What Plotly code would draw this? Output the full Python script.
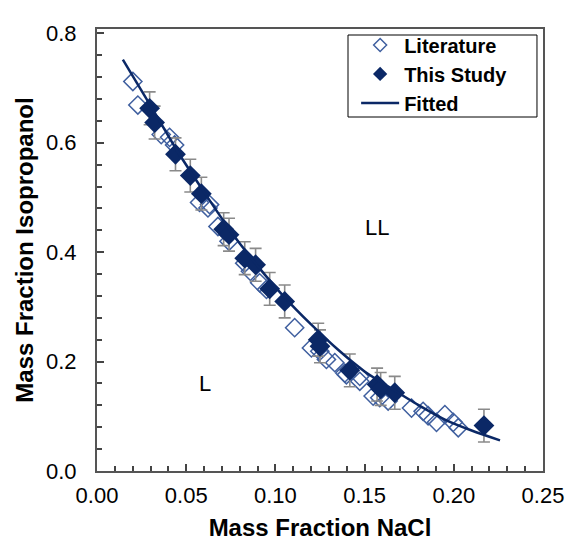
import plotly.graph_objects as go

# ---------------- data ----------------
lit_x = [0.0201, 0.0229, 0.0360, 0.0407, 0.0435, 0.0575, 0.0622, 0.0631, 0.0678,
         0.0740, 0.0828, 0.0860, 0.0912, 0.0950, 0.1108, 0.1202, 0.1249, 0.1286,
         0.1333, 0.1389, 0.1398, 0.1473, 0.1473, 0.1548, 0.1585, 0.1632, 0.1763,
         0.1828, 0.1856, 0.1903, 0.1950, 0.1997, 0.2025]
lit_y = [0.712, 0.669, 0.615, 0.610, 0.596, 0.491, 0.481, 0.487, 0.447,
         0.420, 0.380, 0.365, 0.344, 0.332, 0.262, 0.225, 0.219, 0.204,
         0.198, 0.179, 0.176, 0.173, 0.164, 0.137, 0.134, 0.128, 0.115,
         0.109, 0.101, 0.089, 0.103, 0.089, 0.079]

study_x = [0.0295, 0.0323, 0.0440, 0.0523, 0.0585, 0.0710, 0.0740, 0.0828, 0.0889,
           0.0968, 0.1052, 0.1240, 0.1250, 0.1417, 0.1570, 0.1590, 0.1669, 0.2169]
study_y = [0.663, 0.637, 0.579, 0.540, 0.507, 0.442, 0.432, 0.389, 0.377,
           0.333, 0.310, 0.240, 0.228, 0.184, 0.158, 0.150, 0.143, 0.083]
study_err = [0.03] * len(study_x)

fit_x = [0.0145, 0.030, 0.045, 0.060, 0.075, 0.090, 0.105, 0.120, 0.135,
         0.150, 0.165, 0.180, 0.195, 0.210, 0.2259]
fit_y = [0.752, 0.668, 0.585, 0.510, 0.438, 0.375, 0.318, 0.268, 0.222,
         0.182, 0.151, 0.121, 0.094, 0.074, 0.056]

region_labels = ["LL", "L"]
region_x = [0.157, 0.0603]
region_y = [0.446, 0.160]

x_ticks = [0.00, 0.05, 0.10, 0.15, 0.20, 0.25]
y_ticks = [0.0, 0.2, 0.4, 0.6, 0.8]

FONT = "Liberation Sans, Arial, sans-serif"
NAVY = "#0b2866"
LITC = "#3f5f9f"

fig = go.Figure()

fig.add_trace(go.Scatter(
    x=lit_x, y=lit_y, mode="markers", name="Literature", showlegend=False,
    marker=dict(symbol="diamond-open", size=14, color=LITC,
                line=dict(width=1.5, color=LITC)),
))
fig.add_trace(go.Scatter(
    x=study_x, y=study_y, mode="markers", name="This Study", showlegend=False,
    marker=dict(symbol="diamond", size=16, color=NAVY),
    error_y=dict(type="data", array=study_err, visible=True,
                 color="#8a8a8a", thickness=1.6, width=6),
))
fig.add_trace(go.Scatter(
    x=fit_x, y=fit_y, mode="lines", name="Fitted", showlegend=False,
    line=dict(color=NAVY, width=2.5, shape="spline", smoothing=0.8),
))

# legend entries (smaller symbols, as in the original legend)
fig.add_trace(go.Scatter(x=[None], y=[None], mode="markers", name="Literature",
                         marker=dict(symbol="diamond-open", size=10, color=LITC,
                                     line=dict(width=1.5, color=LITC))))
fig.add_trace(go.Scatter(x=[None], y=[None], mode="markers", name="This Study",
                         marker=dict(symbol="diamond", size=11, color=NAVY)))
fig.add_trace(go.Scatter(x=[None], y=[None], mode="lines", name="Fitted",
                         line=dict(color=NAVY, width=2.5)))

for t, xx, yy in zip(region_labels, region_x, region_y):
    fig.add_annotation(x=xx, y=yy, xref="x", yref="y", text=t, showarrow=False,
                       font=dict(family=FONT, size=22, color="black"))

# legend frame
fig.add_shape(type="rect", xref="paper", yref="paper",
              x0=0.5628, x1=0.9865, y0=0.8009, y1=0.9864,
              line=dict(color="black", width=1), fillcolor="white", layer="below")

fig.update_layout(
    width=565, height=541,
    margin=dict(l=97, r=22, t=29, b=70),
    paper_bgcolor="white", plot_bgcolor="white",
    font=dict(family=FONT, color="black"),
    showlegend=True,
    legend=dict(x=0.581, y=1.008, xanchor="left", yanchor="top",
                bgcolor="rgba(0,0,0,0)", borderwidth=0,
                font=dict(family=FONT, size=20, color="black", weight="bold"),
                itemwidth=38, tracegroupgap=0),
)

fig.update_xaxes(
    range=[0, 0.25], tickvals=x_ticks, ticktext=[f"{v:.2f}" for v in x_ticks],
    ticks="inside", ticklen=7, tickwidth=1.5, tickcolor="#444",
    minor=dict(dtick=0.01, ticks="inside", ticklen=5, tickwidth=1.5, tickcolor="#444"),
    showline=True, linecolor="#555", linewidth=2, mirror=True,
    showgrid=False, zeroline=False, automargin=False,
    tickfont=dict(family=FONT, size=22, color="black"),
    ticklabelstandoff=4,
    title=dict(text="Mass Fraction NaCl", standoff=14,
               font=dict(family=FONT, size=24, color="black", weight="bold")),
)
fig.update_yaxes(
    range=[0, 0.808], tickvals=y_ticks, ticktext=[f"{v:.1f}" for v in y_ticks],
    ticks="inside", ticklen=7, tickwidth=1.5, tickcolor="#444",
    minor=dict(dtick=0.04, ticks="inside", ticklen=5, tickwidth=1.5, tickcolor="#444"),
    showline=True, linecolor="#555", linewidth=2, mirror=True,
    showgrid=False, zeroline=False, automargin=False,
    tickfont=dict(family=FONT, size=22, color="black"),
    ticklabelstandoff=14,
    title=dict(text="Mass Fraction Isopropanol", standoff=6,
               font=dict(family=FONT, size=24, color="black", weight="bold")),
)

fig.write_html("out.html")
